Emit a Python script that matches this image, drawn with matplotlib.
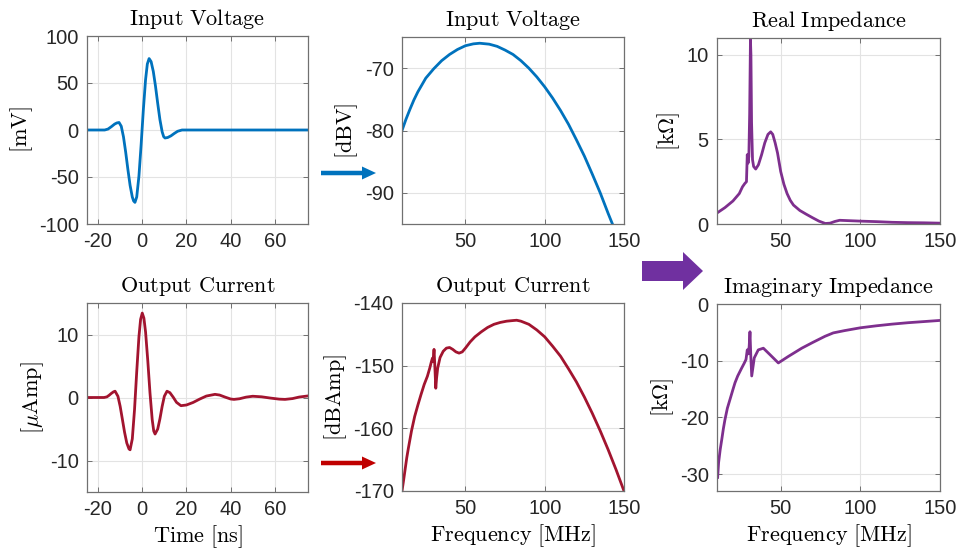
import matplotlib
matplotlib.use("Agg")
import matplotlib.pyplot as plt
from matplotlib.patches import FancyArrow

plt.rcParams['mathtext.fontset'] = 'cm'
plt.rcParams['axes.unicode_minus'] = False
plt.rcParams['font.family'] = 'Liberation Sans'

# time domain
t_in = [-25, -17, -15.5, -14, -12.5, -11.5, -10.5, -9.5, -8.5, -7.5, -6.5, -5.5, -4.5, -3.9, -3.3,
        -2.5, -1.5, -0.5, 0.5, 1.5, 2.3, 3.1, 4, 5, 6, 7, 8, 9, 9.7, 10.3, 11.5, 13, 14.5, 16, 18, 75]
v_in = [0, 0, 1.0, 3.5, 6.3, 7.5, 8, 4.0, -7.2, -23.5, -41.9, -58.9, -71.3, -75.5, -77,
        -71.2, -49, -15.4, 21.7, 53.6, 70.2, 76, 72.8, 62.3, 46.5, 28.2, 11.0, -1.9, -7.1, -8.5,
        -8.0, -6.2, -3.65, -1.36, 0, 0]

t_out = [-25, -17.3, -16, -15, -14, -13, -12.3, -11, -10, -9, -8, -7, -6, -5.5, -4.5, -3.5, -2.5,
         -1.5, -0.75, 0, 0.75, 1.5, 2.5, 3.5, 4.5, 5.2, 5.8, 7, 8, 9, 10, 11.2, 12.5, 14, 15.5, 17.5,
         20, 23, 26, 29, 32.9, 35, 37.5, 40, 41.5, 44, 47, 50, 54, 58, 62, 64.6, 68, 71, 75]
i_out = [0, 0, 0.1, 0.35, 0.65, 0.9, 1.0, 0.19, -1.39, -3.44, -5.52, -7.22, -8.17, -8.3, -6.57, -1.95, 4.1,
         9.65, 12.4, 13.4, 12.6, 10.4, 5.86, 0.73, -3.5, -5.32, -5.8, -5.0, -3.38, -1.42, 0.2, 1.0, 0.77,
         0.05, -0.77, -1.3, -1.19, -0.79, -0.25, 0.23, 0.5, 0.39, 0.06, -0.24, -0.3, -0.2, 0.06, 0.2,
         0.11, -0.09, -0.26, -0.3, -0.17, 0.07, 0.25]

# frequency domain
f_vin = [10, 12.5, 15, 17.5, 20, 25, 30, 35, 40, 45, 50, 55, 59, 65, 70, 75, 80, 85, 90, 95, 100,
         105, 110, 115, 120, 125, 130, 135, 140, 143.5]
db_vin = [-80, -78.2, -76.6, -75.1, -73.8, -71.6, -70.1, -68.8, -67.8, -67.0, -66.4, -66.1, -66.0,
          -66.15, -66.5, -67.1, -67.8, -68.8, -70.0, -71.4, -73.0, -74.8, -76.8, -79.0, -81.5,
          -84.1, -87.0, -90.0, -93.3, -95.5]

f_iout = [10, 11, 12, 13, 14, 16, 18, 20, 22, 24, 26, 27.5, 28.5, 29.2, 29.6, 30.2, 30.7, 31.3,
          31.8, 32.5, 34, 36, 38, 40, 42, 44, 46, 48, 50, 53, 56, 60, 64, 68, 72, 76, 80, 82.3,
          85, 90, 95, 100, 105, 110, 115, 120, 125, 130, 135, 140, 145, 150]
db_iout = [-170, -168.3, -166.5, -164.7, -163.2, -160.4, -158.1, -156.3, -154.6, -153.0, -151.7,
           -150.4, -149.4, -148.8, -149.3, -147.4, -150.0, -153.6, -152.0, -150.4, -148.7, -147.7,
           -147.2, -147.1, -147.4, -147.8, -148.0, -147.8, -147.2, -146.2, -145.4, -144.6, -143.9,
           -143.4, -143.1, -142.9, -142.8, -142.75, -142.9, -143.4, -144.3, -145.4, -146.9, -148.5,
           -150.5, -152.6, -155.0, -157.6, -160.4, -163.4, -166.6, -170]

f_z = [10, 15, 20, 24, 26, 27.5, 28.5, 29, 29.5, 30, 30.5, 31, 31.3, 31.7, 32.3, 33, 34.3, 36, 38, 40,
       42, 43.7, 45, 46.5, 48, 50, 52, 54, 56, 58, 62, 66, 70, 74, 78, 81, 84, 87, 92, 100, 110, 120,
       130, 140, 150]
z_real = [0.65, 0.97, 1.36, 1.8, 2.2, 2.4, 2.5, 4.1, 3.6, 4.0, 6.5, 10.9, 10.0, 6.0, 3.8, 3.4, 3.25,
          3.5, 4.1, 4.8, 5.3, 5.45, 5.3, 4.8, 4.2, 3.1, 2.35, 1.8, 1.4, 1.12, 0.8, 0.58, 0.37, 0.17, 0.03,
          0.05, 0.15, 0.22, 0.2, 0.17, 0.14, 0.1, 0.08, 0.07, 0.05]

f_zi = [10.4, 11, 12, 13, 14, 15, 16.5, 18.2, 20, 21.3, 23, 25.5, 27, 28.2, 29.0, 29.6, 30.2, 30.7,
        31.2, 31.8, 33.4, 35.9, 39.1, 43.3, 48.5, 54.8, 63.2, 70, 77.8, 83, 90, 100, 110, 120, 130,
        140, 150]
z_imag = [-30.6, -28.0, -25.7, -23.9, -22.0, -20.4, -18.4, -16.8, -15.1, -13.9, -12.7, -11.3, -10.5,
          -9.8, -8.1, -8.8, -7.5, -4.9, -9.0, -12.7, -9.5, -8.1, -7.8, -8.95, -10.4, -9.25, -7.8,
          -6.8, -5.7, -5.1, -4.7, -4.2, -3.85, -3.55, -3.3, -3.1, -2.9]

blue = '#0072BD'
red = '#A2142F'
purple = '#7E2F8E'
W, H = 959, 552

fig = plt.figure(figsize=(W / 100, H / 100), dpi=100)


def make_ax(l, r, top, bot):
    ax = fig.add_axes([l / W, 1 - bot / H, (r - l) / W, (bot - top) / H])
    ax.grid(True, color='#e3e3e3', linewidth=0.8)
    ax.set_axisbelow(True)
    for s in ax.spines.values():
        s.set_color('#707070')
        s.set_linewidth(0.9)
    ax.tick_params(direction='in', top=True, right=True, length=3.5, width=0.7,
                   color='#707070', labelsize=14.5, labelcolor='#262626', pad=6)
    return ax


tfont = dict(fontsize=16, pad=8)
lfont = dict(fontsize=16)

ax1 = make_ax(87, 308, 36, 224)
ax1.plot(t_in, v_in, color=blue, lw=2)
ax1.set_xlim(-25, 75)
ax1.set_ylim(-100, 100)
ax1.set_xticks([-20, 0, 20, 40, 60])
ax1.set_yticks([-100, -50, 0, 50, 100])
ax1.set_title(r'$\mathrm{Input\ Voltage}$', **tfont)
ax1.set_ylabel(r'$\mathrm{[mV]}$', labelpad=3, **lfont)

ax2 = make_ax(87, 308, 303, 492)
ax2.plot(t_out, i_out, color=red, lw=2)
ax2.set_xlim(-25, 75)
ax2.set_ylim(-15, 15)
ax2.set_xticks([-20, 0, 20, 40, 60])
ax2.set_yticks([-10, 0, 10])
ax2.set_title(r'$\mathrm{Output\ Current}$', **tfont)
ax2.set_ylabel(r'$[\mu\mathrm{Amp}]$', labelpad=3, **lfont)
ax2.set_xlabel(r'$\mathrm{Time\ [ns]}$', labelpad=3, **lfont)

ax3 = make_ax(402, 624, 37, 224)
ax3.plot(f_vin, db_vin, color=blue, lw=2)
ax3.set_xlim(10, 150)
ax3.set_ylim(-95, -65)
ax3.set_xticks([50, 100, 150])
ax3.set_yticks([-90, -80, -70])
ax3.set_title(r'$\mathrm{Input\ Voltage}$', **tfont)
ax3.set_ylabel(r'$\mathrm{[dBV]}$', labelpad=3, **lfont)

ax4 = make_ax(402, 624, 303, 491)
ax4.plot(f_iout, db_iout, color=red, lw=2)
ax4.set_xlim(10, 150)
ax4.set_ylim(-170, -140)
ax4.set_xticks([50, 100, 150])
ax4.set_yticks([-170, -160, -150, -140])
ax4.set_title(r'$\mathrm{Output\ Current}$', **tfont)
ax4.set_ylabel(r'$\mathrm{[dBAmp]}$', labelpad=3, **lfont)
ax4.set_xlabel(r'$\mathrm{Frequency\ [MHz]}$', labelpad=3, **lfont)

ax5 = make_ax(717, 940, 38, 224)
ax5.plot(f_z, z_real, color=purple, lw=2)
ax5.set_xlim(10, 150)
ax5.set_ylim(0, 11)
ax5.set_xticks([50, 100, 150])
ax5.set_yticks([0, 5, 10])
ax5.set_title(r'$\mathrm{Real\ Impedance}$', **tfont)
ax5.set_ylabel(r'$[\mathrm{k}\Omega]$', labelpad=3, **lfont)

ax6 = make_ax(717, 940, 304, 491)
ax6.plot(f_zi, z_imag, color=purple, lw=2)
ax6.set_xlim(10, 150)
ax6.set_ylim(-33, 0)
ax6.set_xticks([50, 100, 150])
ax6.set_yticks([-30, -20, -10, 0])
ax6.set_title(r'$\mathrm{Imaginary\ Impedance}$', **tfont)
ax6.set_ylabel(r'$[\mathrm{k}\Omega]$', labelpad=3, **lfont)
ax6.set_xlabel(r'$\mathrm{Frequency\ [MHz]}$', labelpad=3, **lfont)

# arrows between the panels, drawn in pixel units
ov = fig.add_axes([0, 0, 1, 1], facecolor='none')
ov.set_xlim(0, W)
ov.set_ylim(H, 0)
ov.axis('off')
ov.add_patch(FancyArrow(321, 173, 55, 0, width=4.5, head_width=13, head_length=14,
                        length_includes_head=True, color=blue, lw=0))
ov.add_patch(FancyArrow(321, 463, 55, 0, width=4.5, head_width=13, head_length=14,
                        length_includes_head=True, color='#C00000', lw=0))
ov.add_patch(FancyArrow(642, 271, 61, 0, width=20, head_width=38, head_length=20,
                        length_includes_head=True, color='#7030A0', lw=0))

fig.savefig('out.png', dpi=100)
